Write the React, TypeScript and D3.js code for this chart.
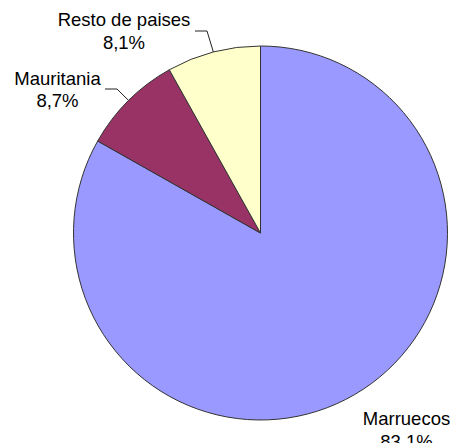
import React from "react";
import * as d3 from "d3";

const categories = ["Marruecos", "Mauritania", "Resto de paises"];
const values = [83.1, 8.7, 8.1];
const valueLabels = ["83,1%", "8,7%", "8,1%"];
const colors = ["#9999FF", "#993366", "#FFFFCC"];

const W = 454;
const H = 443;
const cx = 260.5;
const cy = 233;
const R = 187;

// label anchor (center x, baseline y of first line) and leader elbow/end
const labelPos = [
  { x: 406.5, y: 425, leader: null as null | { ex: number; ey: number; hx: number } },
  { x: 57.5, y: 84.5, leader: { ex: 117, ey: 89, hx: 105 } },
  { x: 124, y: 26, leader: { ex: 207, ey: 31, hx: 195 } },
];

export default function App() {
  const pie = d3
    .pie<number>()
    .sort(null)
    .startAngle(0)
    .endAngle(2 * Math.PI)
    .value((d) => d);
  const arcs = pie(values);
  const arc = d3.arc<d3.PieArcDatum<number>>().innerRadius(0).outerRadius(R);

  return (
    <svg
      width={W}
      height={H}
      style={{ position: "absolute", left: 0, top: 0, fontFamily: "Liberation Sans, Arial, sans-serif" }}
    >
      <rect width={W} height={H} fill="#fff" />
      <g transform={`translate(${cx},${cy})`}>
        {arcs.map((a, i) => (
          <path key={i} d={arc(a) || ""} fill={colors[i]} stroke="#333" strokeWidth={1} />
        ))}
      </g>
      {arcs.map((a, i) => {
        const lp = labelPos[i];
        const mid = (a.startAngle + a.endAngle) / 2;
        const px = cx + R * Math.sin(mid);
        const py = cy - R * Math.cos(mid);
        return (
          <g key={"l" + i}>
            {lp.leader && (
              <polyline
                points={`${px},${py} ${lp.leader.ex},${lp.leader.ey} ${lp.leader.hx},${lp.leader.ey}`}
                fill="none"
                stroke="#222"
                strokeWidth={1}
              />
            )}
            <text x={lp.x} y={lp.y} textAnchor="middle" fontSize={18.5} fill="#000">
              {categories[i]}
            </text>
            <text x={lp.x} y={lp.y + 22.5} textAnchor="middle" fontSize={18.5} fill="#000">
              {valueLabels[i]}
            </text>
          </g>
        );
      })}
    </svg>
  );
}
